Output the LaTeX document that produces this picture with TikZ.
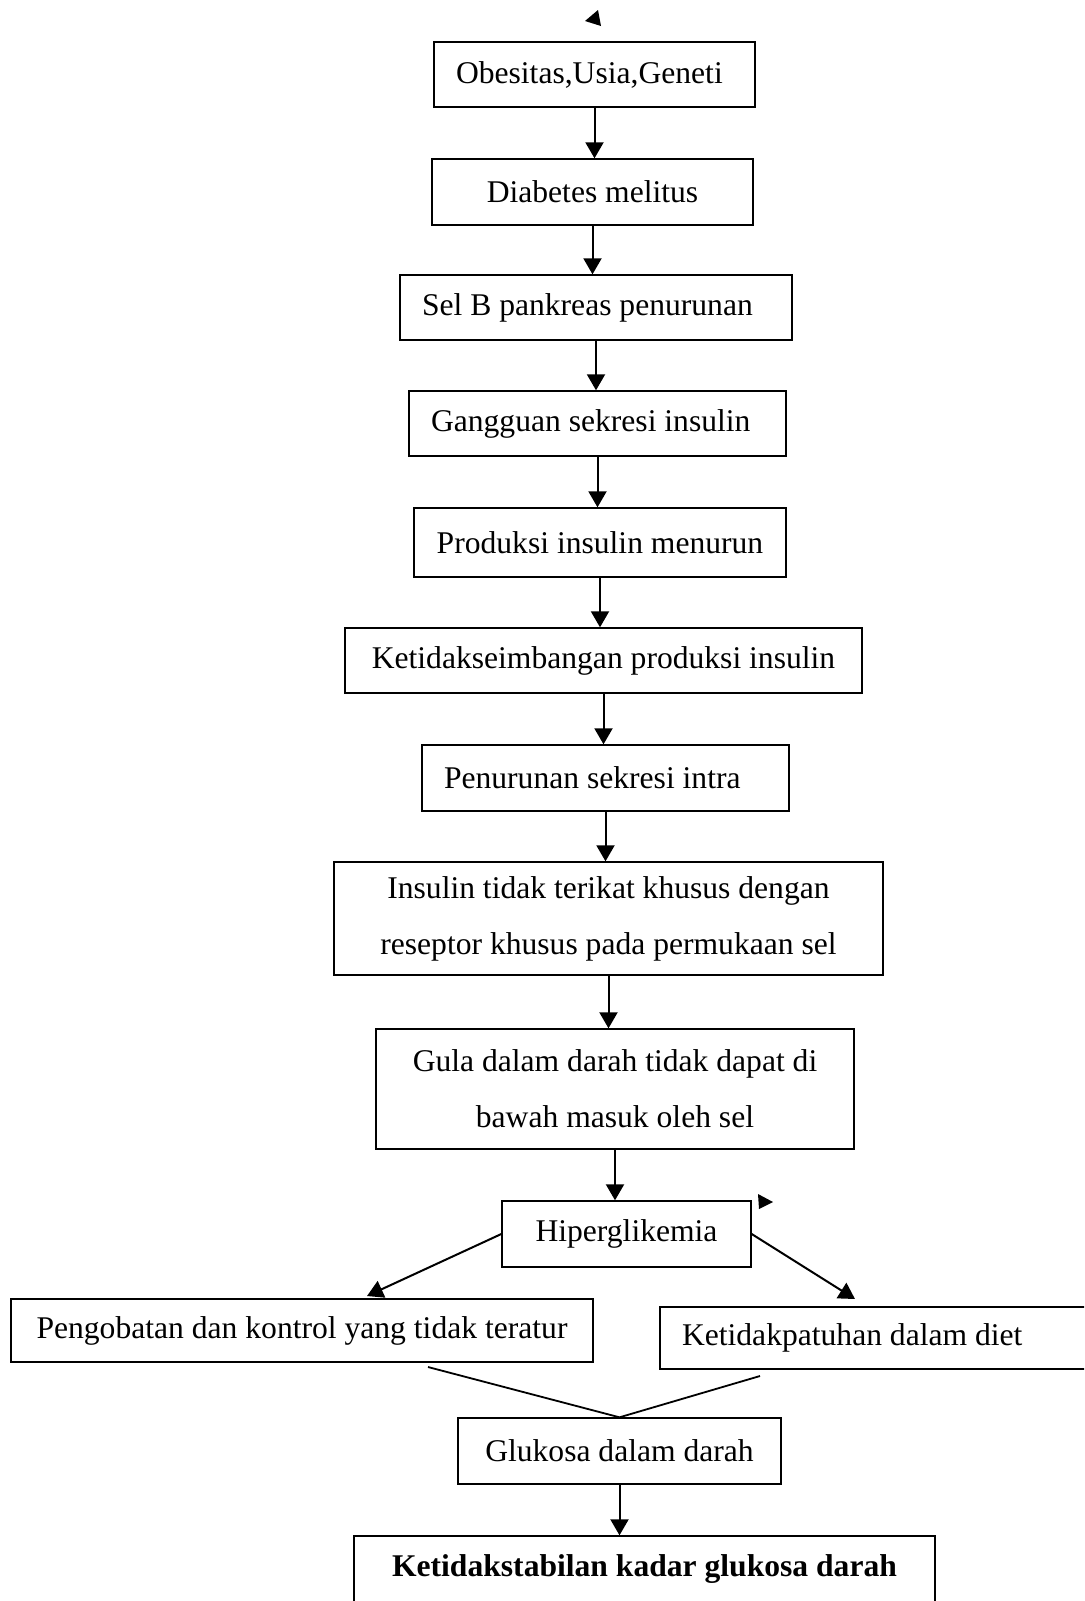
\documentclass[tikz,border=0pt]{standalone}
\usepackage{fontspec}
\setmainfont{Liberation Serif}
\usepackage{tikz}
\usetikzlibrary{arrows.meta}
\tikzset{my box/.style={
  draw,
  line width=0.7pt,
  inner sep=0pt,
  align=center,
  font=\fontsize{15.8}{28}\selectfont
  }
}
\tikzset{my left box/.style={
  my box,
  align=flush left,
  inner xsep=11pt
  }
}
\tikzset{my arrow/.style={
  black,
  line width=1pt,
  -{Triangle[length=8pt,width=9pt]}
  }
}

\begin{document}
\begin{tikzpicture}[x=0.5pt,y=-0.5pt]
    \useasboundingbox (0,0) rectangle (1084,1601);
    \fill[white] (0,0) rectangle (1084,1601);
    \clip (0,0) rectangle (1084,1601);

    \node[my left box,minimum height=32.5pt,text width=138.5pt] (N1) at (594.5,74.5) {Obesitas,Usia,Geneti};
    \node[my box,minimum height=33pt,minimum width=160.5pt] (N2) at (592.5,192) {Diabetes melitus};
    \node[my left box,minimum height=32.5pt,text width=174pt] (N3) at (596,307.5) {Sel B pankreas penurunan};
    \node[my left box,minimum height=32.5pt,text width=166.5pt] (N4) at (597.5,423.5) {Gangguan sekresi insulin};
    \node[my box,minimum height=34.5pt,minimum width=186pt] (N5) at (600,542.5) {Produksi insulin menurun};
    \node[my box,minimum height=32.5pt,minimum width=258.5pt] (N6) at (603.5,660.5) {Ketidakseimbangan produksi insulin};
    \node[my left box,minimum height=33pt,text width=161.5pt] (N7) at (605.5,778) {Penurunan sekresi intra};
    \node[my box,minimum height=56.5pt,minimum width=274.5pt] (N8) at (608.5,918.5) {Insulin tidak terikat khusus dengan\\reseptor khusus pada permukaan sel};
    \node[my box,minimum height=60pt,minimum width=239pt] (N9) at (615,1089) {Gula dalam darah tidak dapat di\\bawah masuk oleh sel};
    \node[my box,minimum height=33pt,minimum width=124.5pt] (N10) at (626.5,1234) {Hiperglikemia};
    \node[my box,minimum height=31.5pt,minimum width=291pt] (N11) at (302,1330.5) {Pengobatan dan kontrol yang tidak teratur};
    \node[my left box,minimum height=31pt,text width=195.5pt] (N12) at (877.5,1338) {Ketidakpatuhan dalam diet};
    \node[my box,minimum height=33pt,minimum width=161.5pt] (N13) at (619.5,1451) {Glukosa dalam darah};
    \node[my box,minimum height=33pt,minimum width=290.5pt] (N14) at (644.5,1569) {\textbf{Ketidakstabilan kadar glukosa darah}};

    \foreach \a/\b in {1/2,2/3,3/4,4/5,5/6,6/7,7/8,8/9,9/10,13/14}
        \draw[my arrow] (N\a.south) -- (N\a.south |- N\b.north);

    \coordinate (T1) at (367,1296);
    \coordinate (T2) at (855,1299);
    \draw[my arrow] (N10.west) -- (T1);
    \draw[my arrow] (N10.east) -- (T2);

    \coordinate (P1) at (428,1367);
    \coordinate (P2) at (760,1376);
    \draw[line width=0.9pt] (P1) -- (N13.north) -- (P2);

    \fill (598,10) -- (585,21) -- (601,26) -- cycle;
    \fill (758,1194) -- (773,1202) -- (759,1209) -- cycle;
\end{tikzpicture}
\end{document}
